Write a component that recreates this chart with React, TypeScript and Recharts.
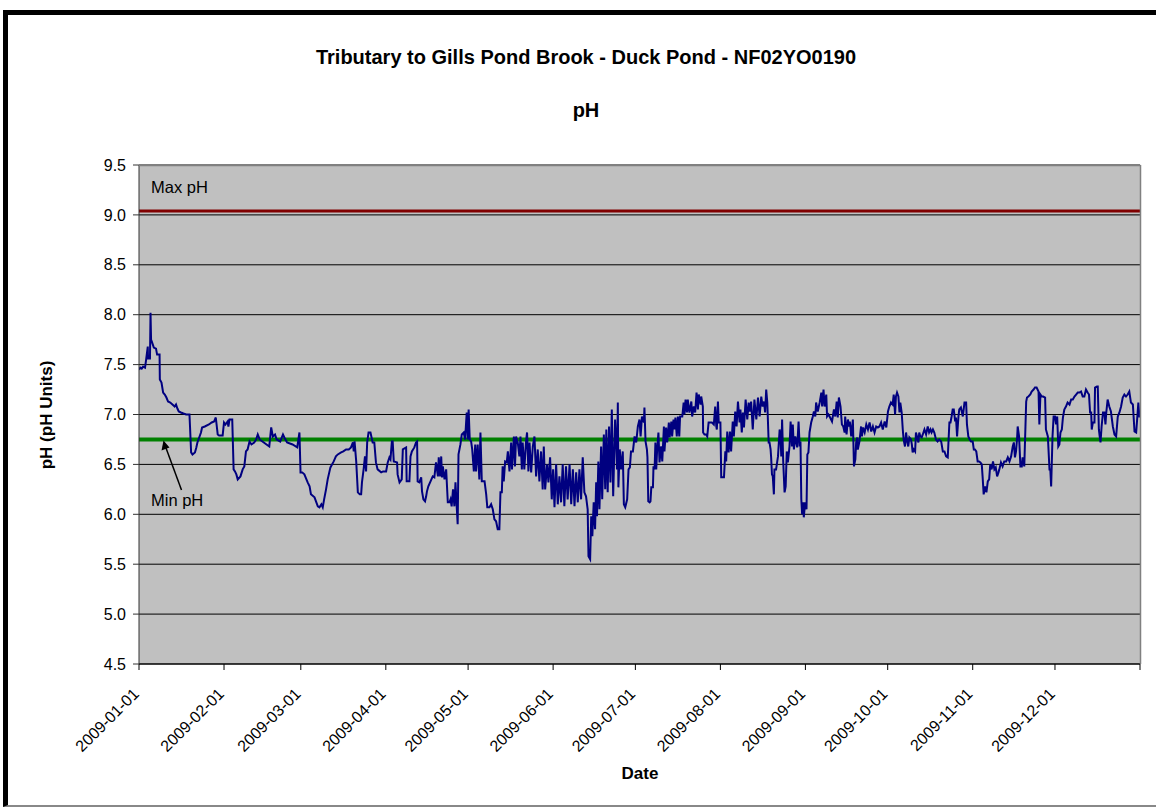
import {
  CartesianGrid,
  Line,
  LineChart,
  ReferenceLine,
  XAxis,
  YAxis,
} from "recharts";

// readings as [day of year (0 = 2009-01-01), pH]
const janMarReadings: [number, number][] = [
  [0, 7.45], [0.5, 7.47], [1, 7.46], [1.5, 7.48], [2.2, 7.47], [2.6, 7.55], [3.2, 7.68], [3.3, 7.56],
  [4, 7.56], [4.2, 8.02], [4.4, 7.75], [4.8, 7.72], [5.4, 7.67], [6.2, 7.66], [6.6, 7.6], [7.5, 7.6],
  [7.6, 7.35], [8.2, 7.32], [8.8, 7.22], [9.4, 7.2], [10, 7.17], [10.6, 7.13], [11.4, 7.12], [12.2, 7.1],
  [13, 7.08], [13.5, 7.1], [14, 7.06], [14.5, 7.03], [15.3, 7.02], [16.2, 7.01], [17.2, 7.0], [18.4, 7.0],
  [18.6, 6.88], [19, 6.62], [19.5, 6.6], [20.4, 6.62], [20.9, 6.67], [21.3, 6.72], [22.6, 6.82], [23, 6.87],
  [24, 6.88], [25.5, 6.9], [26.5, 6.92], [27.4, 6.93], [28, 6.97], [28.7, 6.8], [29.2, 6.79], [30.5, 6.79],
  [31, 6.92], [31.5, 6.9], [32.3, 6.93], [32.6, 6.88], [33, 6.95], [34, 6.95], [34.5, 6.45], [35, 6.43],
  [35.5, 6.4], [36, 6.35], [37, 6.38], [37.8, 6.45], [38.4, 6.48], [39, 6.63], [39.6, 6.65], [40.3, 6.73],
  [41, 6.7], [42, 6.72], [42.7, 6.75], [43.3, 6.8], [44, 6.75], [45.5, 6.72], [46.5, 6.7], [47.5, 6.68],
  [48.2, 6.87], [48.8, 6.78], [49.6, 6.8], [50.2, 6.75], [51.5, 6.73], [52.5, 6.8], [53, 6.77], [54, 6.72],
  [56, 6.7], [57.7, 6.67], [58.5, 6.82], [58.9, 6.42], [59.5, 6.42], [60.3, 6.4], [61.5, 6.32], [62.2, 6.28],
  [62.7, 6.2], [64, 6.17], [65.2, 6.08], [65.8, 6.07], [66.5, 6.1], [67, 6.07], [67.5, 6.15], [68.2, 6.25],
  [68.8, 6.35], [69.8, 6.47], [71, 6.53], [71.8, 6.58], [72.5, 6.6], [73.7, 6.62], [74.5, 6.63], [75.5, 6.65],
  [76.5, 6.65], [77.3, 6.67], [78, 6.72], [78.3, 6.63], [78.6, 6.73], [79.2, 6.53], [79.8, 6.22], [80.5, 6.2],
  [81, 6.2], [81.3, 6.32], [81.9, 6.45], [82.4, 6.58], [82.8, 6.43], [83.2, 6.72], [83.7, 6.82], [84.4, 6.82],
  [85.2, 6.72], [85.8, 6.72], [86.4, 6.52], [87, 6.45], [88.3, 6.42], [89, 6.43], [90.1, 6.43],
];

const aprJunReadings: [number, number][] = [
  [90.7, 6.52], [91.3, 6.57], [91.7, 6.55], [92.2, 6.73], [92.5, 6.73], [92.9, 6.53], [94.1, 6.52], [94.3, 6.4],
  [95, 6.32], [95.8, 6.35], [96.2, 6.65], [97.4, 6.67], [97.6, 6.33], [98.6, 6.33], [99, 6.58], [99.5, 6.63],
  [100.4, 6.67], [101, 6.72], [101.4, 6.73], [101.6, 6.33], [102.2, 6.32], [102.9, 6.37], [103.2, 6.23], [103.7, 6.15],
  [104.3, 6.13], [104.7, 6.18], [105, 6.23], [105.5, 6.28], [106.3, 6.33], [107.1, 6.38], [107.7, 6.37], [108.3, 6.52],
  [109, 6.38], [109.3, 6.57], [109.8, 6.38], [110.2, 6.58], [110.5, 6.37], [110.8, 6.48], [111.4, 6.35], [112, 6.45],
  [112.6, 6.12], [113.2, 6.12], [113.6, 6.15], [114, 6.08], [114.5, 6.25], [115, 6.08], [115.4, 6.32], [115.9, 6.05],
  [116.2, 5.9], [116.5, 6.6], [117.2, 6.7], [117.7, 6.8], [118.4, 6.82], [118.9, 6.75], [119.5, 7.02], [119.9, 6.75],
  [120.2, 7.05], [120.6, 6.75], [121.1, 6.73], [121.5, 6.65], [122.1, 6.43], [122.6, 6.7], [122.9, 6.43], [123.5, 6.7],
  [124.1, 6.35], [124.5, 6.82], [125, 6.33], [126, 6.33], [126.6, 6.2], [127, 6.07], [127.8, 6.07], [128.4, 6.1],
  [129, 6.05], [129.6, 5.95], [130.2, 5.93], [130.8, 5.85], [131.4, 5.85], [131.8, 6.22], [132.3, 6.22], [132.6, 6.48],
  [133, 6.33], [133.5, 6.53], [134.1, 6.52], [134.5, 6.63], [135.1, 6.43], [135.7, 6.72], [136, 6.45], [136.7, 6.78],
  [137.1, 6.48], [137.5, 6.78], [138.1, 6.72], [138.7, 6.58], [139.1, 6.78], [139.6, 6.45], [139.9, 6.72], [140.5, 6.45],
  [141.1, 6.72], [141.5, 6.82], [142, 6.43], [142.4, 6.72], [143, 6.42], [143.6, 6.68], [144.2, 6.78], [144.8, 6.38],
  [145.4, 6.65], [146, 6.33], [146.6, 6.63], [147.2, 6.25], [147.6, 6.68], [148.1, 6.25], [148.8, 6.5], [149.3, 6.32],
  [149.9, 6.57], [150.5, 6.15], [151, 6.45], [151.5, 6.07], [152.1, 6.5], [152.7, 6.1], [153.3, 6.38], [153.9, 6.12],
  [154.5, 6.5], [155.1, 6.08], [155.7, 6.48], [156.3, 6.15], [157, 6.5], [157.6, 6.1], [158.2, 6.45], [158.8, 6.08],
  [159.4, 6.42], [160, 6.12], [160.6, 6.45], [161.2, 6.15], [161.8, 6.57], [162.4, 6.22], [163, 6.18], [163.6, 6.05],
  [163.9, 5.58], [164.5, 5.55], [164.9, 5.98], [165.3, 5.78], [165.8, 6.12], [166.3, 5.85], [166.7, 6.32], [167, 5.98],
  [167.5, 6.53], [167.9, 6.05], [168.5, 6.68], [168.9, 6.15], [169.5, 6.8], [170, 6.25], [170.4, 6.85], [170.9, 6.22],
  [171.4, 6.88], [171.9, 6.32], [172.4, 7.05], [172.9, 6.18], [173.6, 6.95], [174, 6.72], [174.3, 6.45], [174.6, 7.12],
  [174.8, 6.27], [175.3, 6.65], [175.8, 6.45], [176.4, 6.63], [176.8, 6.1], [177.3, 6.07], [178, 6.15], [178.5, 6.45],
  [179, 6.47], [179.4, 6.63], [180.1, 6.63], [180.7, 6.78], [181.3, 6.72],
];

const julSepReadings: [number, number][] = [
  [181.9, 6.88], [182.5, 6.95], [182.9, 6.78], [183.4, 6.98], [184.1, 6.92], [184.3, 7.07], [184.7, 6.73], [185.2, 6.65],
  [185.4, 6.57], [185.7, 6.13], [186.2, 6.12], [186.5, 6.13], [186.8, 6.27], [187.4, 6.27], [187.6, 6.48], [188, 6.45],
  [188.3, 6.72], [188.6, 6.45], [188.9, 6.63], [189.4, 6.82], [189.8, 6.52], [190.4, 6.68], [190.8, 6.53], [191.4, 6.88],
  [191.6, 6.63], [192.2, 6.87], [192.6, 6.72], [193.2, 6.92], [193.5, 6.77], [194.1, 6.93], [194.4, 6.78], [194.9, 6.95],
  [195.3, 6.85], [195.6, 6.97], [196.1, 6.78], [196.5, 6.98], [197, 6.78], [197.3, 6.98], [198.1, 6.98], [198.6, 7.12],
  [198.9, 7.0], [199.3, 7.15], [199.8, 7.02], [200.1, 7.15], [200.7, 7.02], [201.4, 7.13], [201.7, 6.98], [202.3, 7.08],
  [202.8, 7.02], [203.3, 7.22], [203.8, 7.05], [204.1, 7.2], [204.8, 7.1], [205, 7.18], [205.6, 7.08], [205.7, 6.82],
  [206.2, 6.8], [206.8, 6.8], [207.2, 6.78], [207.7, 6.92], [208.4, 6.92], [208.9, 6.92], [209.6, 6.9], [210.1, 7.08],
  [210.5, 6.88], [210.7, 6.85], [211.1, 7.13], [211.4, 6.92], [212, 6.92], [212.3, 6.37], [213.3, 6.37], [213.8, 6.63],
  [214.1, 6.53], [214.5, 6.83], [215, 6.62], [215.5, 6.83], [215.9, 6.63], [216.5, 6.93], [216.9, 6.78], [217.4, 7.03],
  [217.9, 6.88], [218.4, 7.13], [219, 6.92], [219.3, 7.05], [219.8, 6.82], [220.2, 7.02], [220.6, 6.87], [221.2, 7.15],
  [221.8, 6.95], [222.3, 7.12], [222.7, 7.03], [223.2, 7.13], [223.8, 6.85], [224.4, 7.15], [225.1, 6.95], [225.7, 7.17],
  [226.3, 6.98], [226.9, 7.18], [227.4, 7.08], [227.9, 7.13], [228.3, 7.02], [228.7, 7.25], [229.1, 7.12], [229.6, 6.72],
  [229.9, 6.72], [230.3, 6.65], [230.5, 6.57], [230.8, 6.4], [231.1, 6.38], [231.5, 6.2], [231.7, 6.45], [232.3, 6.45],
  [233, 6.58], [233.6, 6.85], [233.9, 6.78], [234.2, 6.58], [234.5, 6.95], [234.9, 6.53], [235.4, 6.22], [235.8, 6.28],
  [236.2, 6.63], [236.6, 6.52], [237.2, 6.68], [237.6, 6.93], [238.1, 6.68], [238.4, 6.9], [238.8, 6.65], [239.3, 6.78],
  [240, 6.67], [240.5, 6.93], [240.9, 6.68], [241.2, 6.73], [241.5, 6.15], [241.8, 6.0], [242.2, 6.12], [242.4, 5.97],
  [242.9, 6.12], [243.4, 6.05], [243.7, 6.6], [244.1, 6.62], [244.5, 6.82], [245.1, 6.92], [245.4, 6.95], [245.7, 6.98],
  [246.1, 7.03], [246.6, 6.98], [246.9, 7.12], [247.5, 7.03], [248.2, 7.12], [248.8, 7.22], [249.1, 7.08], [249.6, 7.25],
  [250, 7.08], [250.6, 7.2], [250.9, 6.98], [251.4, 7.0], [252, 6.97], [252.7, 6.93], [253.4, 7.05], [253.9, 6.98],
  [254.4, 7.13], [254.8, 6.97], [255.2, 7.17], [255.8, 7.08], [256.3, 6.9], [256.8, 6.88], [257.3, 6.82], [257.5, 6.98],
  [258, 6.8], [258.5, 6.95], [258.9, 6.88], [259.2, 6.93], [259.7, 6.78], [260.3, 6.95], [260.7, 6.48], [261.2, 6.55],
  [261.5, 6.72], [261.9, 6.77], [262.1, 6.65], [262.7, 6.73], [263.3, 6.88], [263.6, 6.78], [264, 6.87], [264.6, 6.82],
  [265.2, 6.9], [265.8, 6.85], [266.4, 6.92], [267, 6.83], [267.6, 6.88], [268.2, 6.82], [268.8, 6.88], [269.4, 6.87],
  [270, 6.88], [270.6, 6.92], [271.2, 6.85], [271.9, 6.93], [272.5, 6.87],
];

const octDecReadings: [number, number][] = [
  [273.1, 7.03], [273.6, 7.08], [274.2, 7.12], [274.8, 7.1], [275.2, 7.2], [275.7, 7.0], [276, 7.18], [276.4, 7.22],
  [276.9, 7.18], [277.3, 7.02], [277.6, 7.12], [278.1, 7.02], [278.5, 6.85], [278.8, 6.75], [279.3, 6.68], [279.7, 6.82],
  [280.1, 6.73], [280.5, 6.68], [280.9, 6.77], [281.5, 6.75], [281.8, 6.7], [282.1, 6.62], [282.5, 6.65], [283, 6.63],
  [283.3, 6.82], [283.7, 6.78], [284.2, 6.72], [284.5, 6.82], [284.9, 6.78], [285.4, 6.77], [285.8, 6.8], [286.4, 6.85],
  [287, 6.8], [287.6, 6.88], [288.1, 6.82], [288.6, 6.85], [289, 6.82], [289.5, 6.85], [290, 6.82], [290.6, 6.75],
  [291.2, 6.73], [291.8, 6.75], [292.5, 6.73], [293.1, 6.63], [293.7, 6.63], [294.3, 6.58], [294.9, 6.57], [295.5, 6.92],
  [295.9, 6.92], [296.3, 6.98], [296.7, 7.05], [297.1, 7.05], [297.6, 6.93], [297.9, 6.97], [298.3, 6.78], [298.8, 6.98],
  [299.1, 7.05], [299.7, 7.07], [300.4, 6.98], [301, 7.12], [301.6, 7.12], [301.9, 6.9], [302.4, 6.78], [302.9, 6.75],
  [303.4, 6.73], [304, 6.73], [304.4, 6.65], [304.8, 6.65], [305.3, 6.63], [305.8, 6.53], [306.3, 6.53], [306.8, 6.52],
  [307.3, 6.5], [307.6, 6.38], [308, 6.2], [308.5, 6.28], [309, 6.22], [309.5, 6.33], [310, 6.35], [310.4, 6.5],
  [310.9, 6.45], [311.4, 6.53], [311.9, 6.45], [312.4, 6.47], [312.9, 6.38], [313.4, 6.42], [313.7, 6.45], [314.3, 6.52],
  [314.9, 6.48], [315.5, 6.53], [316.2, 6.53], [316.8, 6.57], [317.4, 6.53], [318, 6.58], [318.6, 6.68], [319, 6.72],
  [319.4, 6.57], [319.8, 6.63], [320.2, 6.77], [320.4, 6.88], [320.9, 6.78], [321.4, 6.48], [321.9, 6.48], [322.2, 6.57],
  [322.8, 6.48], [323.5, 7.13], [323.8, 7.17], [324.3, 7.18], [325, 7.2], [325.5, 7.23], [326.2, 7.25], [326.7, 7.27],
  [327.3, 7.27], [328, 7.23], [328.3, 6.9], [328.7, 7.2], [329.2, 7.18], [329.7, 7.18], [330.4, 7.17], [330.7, 6.85],
  [331.4, 6.78], [332, 6.45], [332.3, 6.45], [332.6, 6.28], [333.1, 6.78], [333.5, 6.98], [334, 6.98], [334.4, 6.9],
  [334.8, 6.98], [335.2, 6.68], [335.6, 6.7], [336, 6.82], [336.5, 6.85], [336.9, 6.97], [337.4, 7.05], [338, 7.08],
  [338.6, 7.12], [339.3, 7.1], [339.9, 7.15], [340.5, 7.15], [341.1, 7.18], [341.7, 7.2], [342.3, 7.22], [342.9, 7.22],
  [343.5, 7.23], [344.1, 7.18], [344.7, 7.18], [345.3, 7.25], [345.9, 7.22], [346.4, 7.2], [346.8, 7.02], [347.2, 7.02],
  [347.4, 6.85], [347.8, 6.92], [348.4, 6.92], [348.6, 7.27], [349.3, 7.28], [349.6, 7.28], [350, 6.85], [350.3, 6.78],
  [350.6, 6.72], [351, 6.88], [351.5, 7.02], [352, 7.02], [352.4, 6.9], [352.7, 7.02], [353.2, 7.15], [353.8, 7.08],
  [354.4, 7.03], [355.1, 6.88], [355.7, 6.8], [356.3, 6.78], [356.9, 6.98], [357.5, 7.02], [358.1, 7.08], [358.7, 7.17],
  [359.3, 7.2], [359.9, 7.18], [360.5, 7.2], [361.1, 7.23], [361.7, 7.12], [362.4, 7.1], [363, 6.83], [363.6, 6.82],
  [363.9, 6.93], [364.4, 7.12], [364.8, 6.97],
];

const monthStartDays = [0, 31, 59, 90, 120, 151, 181, 212, 243, 273, 304, 334, 365];
const monthLabels = [
  "2009-01-01", "2009-02-01", "2009-03-01", "2009-04-01", "2009-05-01", "2009-06-01",
  "2009-07-01", "2009-08-01", "2009-09-01", "2009-10-01", "2009-11-01", "2009-12-01", "",
];
const phTicks = [4.5, 5.0, 5.5, 6.0, 6.5, 7.0, 7.5, 8.0, 8.5, 9.0, 9.5];
const maxPh = 9.04;
const minPh = 6.75;

const data = [...janMarReadings, ...aprJunReadings, ...julSepReadings, ...octDecReadings].map(
  ([day, ph]) => ({ day, ph })
);

const FONT = "'Liberation Sans', Arial, sans-serif";

const DateTick = (props: any) => {
  const { x, y, payload } = props;
  const label = monthLabels[monthStartDays.indexOf(payload.value)] ?? "";
  const ax = x - 3;
  const ay = y + 19;
  return (
    <text
      x={ax}
      y={ay}
      dy="0.35em"
      transform={`rotate(-45, ${ax}, ${ay})`}
      textAnchor="end"
      fontSize={16}
      fontFamily={FONT}
      fill="#000"
    >
      {label}
    </text>
  );
};

export default function App() {
  return (
    <div style={{ position: "absolute", left: 0, top: 0, width: 1156, height: 808, background: "#fff" }}>
      <div
        style={{
          position: "absolute",
          left: 3,
          top: 10,
          width: 1153,
          height: 797,
          boxSizing: "border-box",
          borderLeft: "5px solid #000",
          borderTop: "5px solid #000",
          borderBottom: "2px solid #888",
        }}
      />
      <div style={{ position: "absolute", left: 0, top: 0 }}>
        <LineChart width={1156} height={808} data={data} margin={{ top: 165, right: 16, bottom: 44, left: 0 }}>
          <CartesianGrid vertical={false} stroke="#000" fill="#C0C0C0" fillOpacity={1} />
          <XAxis
            dataKey="day"
            type="number"
            domain={[0, 365]}
            ticks={monthStartDays}
            interval={0}
            tick={<DateTick />}
            tickSize={6}
            height={100}
            stroke="#000"
            allowDataOverflow
          />
          <YAxis
            type="number"
            domain={[4.5, 9.5]}
            ticks={phTicks}
            interval={0}
            width={139}
            tickSize={6}
            tickMargin={7}
            stroke="#333"
            tickFormatter={(v: number) => v.toFixed(1)}
            tick={{ fontSize: 16, fontFamily: FONT, fill: "#000" }}
          />
          <ReferenceLine y={maxPh} stroke="#800000" strokeWidth={3} />
          <ReferenceLine y={minPh} stroke="#008000" strokeWidth={4} />
          <Line
            dataKey="ph"
            type="linear"
            stroke="#000080"
            strokeWidth={2}
            dot={false}
            isAnimationActive={false}
          />
        </LineChart>
      </div>
      <svg
        width={1156}
        height={808}
        style={{ position: "absolute", left: 0, top: 0, pointerEvents: "none" }}
        fontFamily={FONT}
      >
        <line x1={139} y1={165.5} x2={1140.5} y2={165.5} stroke="#808080" strokeWidth={1.5} />
        <line x1={1140.5} y1={165} x2={1140.5} y2={664} stroke="#808080" strokeWidth={1.5} />
        <text x={586} y={64} textAnchor="middle" fontSize={20} fontWeight="bold">
          Tributary to Gills Pond Brook - Duck Pond - NF02YO0190
        </text>
        <text x={586} y={117} textAnchor="middle" fontSize={20} fontWeight="bold">
          pH
        </text>
        <text x={151} y={193} fontSize={16.5}>
          Max pH
        </text>
        <text x={151} y={506} fontSize={16.5}>
          Min pH
        </text>
        <line x1={181.5} y1={490} x2={166} y2={448} stroke="#000" strokeWidth={1.5} />
        <polygon points="163.5,440.5 161.5,450.5 169.5,447.5" fill="#000" />
        <text
          x={46}
          y={415}
          dy="0.35em"
          textAnchor="middle"
          fontSize={17}
          fontWeight="bold"
          transform="rotate(-90, 46, 415)"
        >
          pH (pH Units)
        </text>
        <text x={640} y={779} textAnchor="middle" fontSize={17} fontWeight="bold">
          Date
        </text>
      </svg>
    </div>
  );
}
